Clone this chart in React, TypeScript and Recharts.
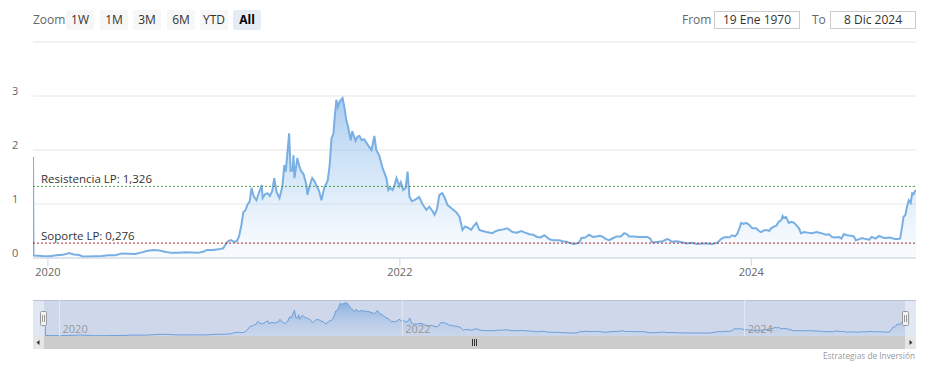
import React from 'react';
import { AreaChart, Area, XAxis, YAxis, CartesianGrid, ReferenceLine } from 'recharts';

const dates = [
  '2019-12-01','2019-12-02','2019-12-12','2019-12-24','2020-01-05','2020-01-18','2020-02-01','2020-02-14','2020-02-24','2020-03-06',
  '2020-03-13','2020-03-25','2020-04-08','2020-04-22','2020-05-06','2020-05-20','2020-06-03','2020-06-16','2020-06-30','2020-07-12',
  '2020-07-26','2020-08-08','2020-08-20','2020-09-02','2020-09-15','2020-09-28','2020-10-12','2020-10-26','2020-11-08','2020-11-20',
  '2020-11-26','2020-12-08','2020-12-20','2020-12-30','2021-01-04','2021-01-09','2021-01-15','2021-01-21','2021-01-27','2021-02-01',
  '2021-02-06','2021-02-10','2021-02-14','2021-02-18','2021-02-23','2021-02-27','2021-03-03','2021-03-09','2021-03-14','2021-03-20',
  '2021-03-22','2021-03-27','2021-04-01','2021-04-06','2021-04-11','2021-04-15','2021-04-20','2021-04-26','2021-05-02','2021-05-06',
  '2021-05-09','2021-05-12','2021-05-16','2021-05-19','2021-05-23','2021-05-25','2021-05-27','2021-06-02','2021-06-06','2021-06-10',
  '2021-06-15','2021-06-21','2021-06-23','2021-06-28','2021-07-03','2021-07-08','2021-07-12','2021-07-17','2021-07-22','2021-07-28',
  '2021-08-04','2021-08-08','2021-08-12','2021-08-16','2021-08-18','2021-08-22','2021-08-25','2021-08-29','2021-09-01','2021-09-04',
  '2021-09-08','2021-09-12','2021-09-15','2021-09-18','2021-09-21','2021-09-24','2021-09-28','2021-10-01','2021-10-05','2021-10-09',
  '2021-10-14','2021-10-19','2021-10-26','2021-11-03','2021-11-09','2021-11-13','2021-11-19','2021-11-26','2021-12-04','2021-12-08',
  '2021-12-12','2021-12-17','2021-12-21','2021-12-25','2021-12-31','2022-01-03','2022-01-08','2022-01-13','2022-01-17','2022-01-21',
  '2022-01-26','2022-01-31','2022-02-05','2022-02-10','2022-02-17','2022-02-25','2022-03-03','2022-03-09','2022-03-14','2022-03-19',
  '2022-03-24','2022-03-30','2022-04-04','2022-04-10','2022-04-18','2022-04-28','2022-05-05','2022-05-11','2022-05-16','2022-05-21',
  '2022-05-29','2022-06-04','2022-06-09','2022-06-15','2022-06-22','2022-06-30','2022-07-12','2022-07-20','2022-07-27','2022-08-04',
  '2022-08-12','2022-08-23','2022-09-01','2022-09-10','2022-09-18','2022-09-27','2022-10-05','2022-10-13','2022-10-20','2022-10-28',
  '2022-11-07','2022-11-15','2022-11-28','2022-12-05','2022-12-12','2022-12-20','2022-12-28','2023-01-02','2023-01-08','2023-01-13',
  '2023-01-21','2023-01-29','2023-02-06','2023-02-13','2023-02-20','2023-02-25','2023-03-05','2023-03-12','2023-03-20','2023-03-28',
  '2023-04-05','2023-04-12','2023-04-18','2023-04-22','2023-05-01','2023-05-13','2023-05-22','2023-05-30','2023-06-05','2023-06-09',
  '2023-06-15','2023-06-23','2023-07-01','2023-07-10','2023-07-14','2023-07-20','2023-07-30','2023-08-10','2023-08-20','2023-08-31',
  '2023-09-10','2023-09-21','2023-10-01','2023-10-12','2023-10-22','2023-10-30','2023-11-05','2023-11-10','2023-11-16','2023-11-22',
  '2023-11-28','2023-12-03','2023-12-08','2023-12-11','2023-12-16','2023-12-21','2023-12-27','2024-01-03','2024-01-11','2024-01-17',
  '2024-01-21','2024-01-27','2024-02-01','2024-02-07','2024-02-11','2024-02-17','2024-02-22','2024-02-27','2024-03-03','2024-03-06',
  '2024-03-09','2024-03-13','2024-03-19','2024-03-24','2024-03-30','2024-04-04','2024-04-09','2024-04-13','2024-04-20','2024-04-27',
  '2024-05-05','2024-05-16','2024-05-25','2024-06-04','2024-06-10','2024-06-17','2024-06-24','2024-07-01','2024-07-06','2024-07-11',
  '2024-07-18','2024-07-26','2024-08-01','2024-08-05','2024-08-12','2024-08-18','2024-08-26','2024-09-02','2024-09-07','2024-09-15',
  '2024-09-22','2024-09-30','2024-10-06','2024-10-14','2024-10-19','2024-10-25','2024-11-01','2024-11-05','2024-11-09','2024-11-12',
  '2024-11-16','2024-11-19','2024-11-23','2024-11-27','2024-11-30','2024-12-03','2024-12-06','2024-12-08',
];

const prices = [
  1.87, 0.045, 0.04, 0.034, 0.033, 0.05, 0.058, 0.09, 0.065, 0.055,
  0.03, 0.028, 0.033, 0.037, 0.05, 0.05, 0.085, 0.08, 0.075, 0.1,
  0.135, 0.15, 0.14, 0.11, 0.095, 0.098, 0.105, 0.1, 0.095, 0.12,
  0.15, 0.15, 0.16, 0.18, 0.25, 0.31, 0.33, 0.3, 0.31, 0.4,
  0.62, 0.85, 0.88, 0.98, 1.05, 1.3, 1.15, 1.07, 1.2, 1.35,
  1.11, 1.18, 1.2, 1.15, 1.24, 1.48, 1.22, 1.11, 1.33, 1.72,
  1.6, 1.9, 2.31, 1.61, 1.62, 1.9, 1.48, 1.85, 1.7, 1.61,
  1.55, 1.35, 1.17, 1.35, 1.48, 1.42, 1.33, 1.25, 1.07, 1.3,
  1.43, 1.7, 2.22, 2.3, 2.54, 2.93, 2.8, 2.9, 2.93, 2.96,
  2.78, 2.54, 2.45, 2.31, 2.18, 2.35, 2.25, 2.17, 2.25, 2.26,
  2.18, 2.2, 2.1, 2.0, 2.26, 2.0, 1.9, 1.67, 1.48, 1.26,
  1.3, 1.26, 1.35, 1.48, 1.33, 1.4, 1.26, 1.3, 1.6, 1.13,
  1.05, 1.07, 1.1, 1.13, 1.0, 0.89, 0.95, 0.88, 0.8, 0.9,
  1.17, 1.2, 1.12, 0.98, 0.92, 0.85, 0.76, 0.52, 0.58, 0.57,
  0.52, 0.6, 0.65, 0.52, 0.5, 0.48, 0.46, 0.5, 0.52, 0.53,
  0.55, 0.48, 0.47, 0.5, 0.47, 0.44, 0.43, 0.39, 0.38, 0.42,
  0.35, 0.33, 0.33, 0.31, 0.3, 0.28, 0.26, 0.27, 0.28, 0.37,
  0.38, 0.43, 0.39, 0.4, 0.41, 0.4, 0.35, 0.33, 0.37, 0.4,
  0.4, 0.46, 0.44, 0.4, 0.4, 0.39, 0.39, 0.39, 0.36, 0.29,
  0.29, 0.3, 0.31, 0.35, 0.34, 0.3, 0.31, 0.29, 0.27, 0.28,
  0.26, 0.27, 0.27, 0.26, 0.28, 0.35, 0.38, 0.39, 0.38, 0.42,
  0.4, 0.45, 0.57, 0.65, 0.63, 0.65, 0.62, 0.55, 0.55, 0.5,
  0.48, 0.51, 0.52, 0.5, 0.55, 0.58, 0.6, 0.67, 0.7, 0.78,
  0.74, 0.76, 0.65, 0.67, 0.65, 0.6, 0.55, 0.46, 0.48, 0.47,
  0.46, 0.48, 0.46, 0.43, 0.44, 0.39, 0.38, 0.39, 0.36, 0.44,
  0.42, 0.41, 0.4, 0.33, 0.35, 0.37, 0.35, 0.34, 0.39, 0.36,
  0.41, 0.38, 0.37, 0.38, 0.37, 0.35, 0.35, 0.36, 0.57, 0.76,
  0.8, 0.94, 1.07, 1.02, 1.2, 1.18, 1.24, 1.26,
];

const yTicks = [0, 1, 2, 3, 4];
const yTickLabels = ['0', '1', '2', '3', ''];
const xTickDates = ['2020-01-01', '2022-01-01', '2024-01-01'];
const xTickLabels = ['2020', '2022', '2024'];
const rangeStart = '2019-12-01';
const rangeEnd = '2024-12-08';
const resistance = 1.326;
const support = 0.276;
const resistanceLabel = 'Resistencia LP: 1,326';
const supportLabel = 'Soporte LP: 0,276';
const zoomButtons = ['1W', '1M', '3M', '6M', 'YTD', 'All'];
const zoomButtonX = [66, 100, 133, 167, 200, 233];
const zoomLabel = 'Zoom';
const fromText = 'From';
const toText = 'To';
const fromValue = '19 Ene 1970';
const toValue = '8 Dic 2024';
const creditText = 'Estrategias de Inversión';

const FONT = '"Open Sans", "Noto Sans", sans-serif';
const ts = (d: string) => Date.parse(d + 'T00:00:00Z');
const data = dates.map((d, i) => ({ t: ts(d), v: prices[i] }));
const xDomain = [ts(rangeStart), ts(rangeEnd)];
const xTicks = xTickDates.map(ts);
const labelFor = (t: number) => xTickLabels[xTicks.indexOf(t)] ?? '';

const YTick = (props: any) => {
  const { y, payload } = props;
  const idx = yTicks.indexOf(payload.value);
  const txt = yTickLabels[idx];
  if (!txt) return <g />;
  return (
    <text x={12} y={y - 1} fontSize={11} fill="#666" fontFamily={FONT}>
      {txt}
    </text>
  );
};

const XTick = (props: any) => {
  const { x, y, payload } = props;
  return (
    <text x={x} y={y + 8} fontSize={11} fill="#666" textAnchor="middle" fontFamily={FONT}>
      {labelFor(payload.value)}
    </text>
  );
};

const PlotLabel = (props: any) => {
  const vb = props.viewBox || {};
  return (
    <text x={(vb.x ?? 0) + 8} y={(vb.y ?? 0) - 3} fontSize={11.5} fill="#333" fontFamily={FONT}>
      {props.text}
    </text>
  );
};

const NavLabel = (props: any) => {
  const vb = props.viewBox || {};
  return (
    <text x={(vb.x ?? 0) + 3} y={(vb.y ?? 0) + (vb.height ?? 0) - 3} fontSize={11} fill="#999" fontFamily={FONT}>
      {props.text}
    </text>
  );
};

const btnStyle = (i: number): React.CSSProperties => ({
  position: 'absolute',
  left: zoomButtonX[i],
  top: 10,
  width: 28,
  height: 20,
  background: zoomButtons[i] === 'All' ? '#e6ebf5' : '#f7f7f7',
  color: zoomButtons[i] === 'All' ? '#000' : '#333',
  fontWeight: zoomButtons[i] === 'All' ? 700 : 400,
  fontSize: 12,
  lineHeight: '20px',
  textAlign: 'center',
  fontFamily: FONT,
  borderRadius: 2,
});

const boxStyle = (left: number, width: number): React.CSSProperties => ({
  position: 'absolute',
  left,
  top: 11,
  width,
  height: 18,
  border: '1px solid #cccccc',
  boxSizing: 'border-box',
  fontSize: 12,
  lineHeight: '16px',
  textAlign: 'center',
  color: '#333',
  fontFamily: FONT,
  background: '#fff',
});

export default function App() {
  return (
    <div style={{ position: 'absolute', left: 0, top: 0, width: 929, height: 369, background: '#fff', overflow: 'hidden', fontFamily: FONT }}>
      {/* range selector */}
      <div style={{ position: 'absolute', left: 33, top: 10, height: 20, lineHeight: '20px', fontSize: 12, color: '#666' }}>{zoomLabel}</div>
      {zoomButtons.map((b, i) => (
        <div key={b} style={btnStyle(i)}>{b}</div>
      ))}
      <div style={{ position: 'absolute', left: 682, top: 10, height: 20, lineHeight: '20px', fontSize: 12, color: '#666' }}>{fromText}</div>
      <div style={boxStyle(714, 86)}>{fromValue}</div>
      <div style={{ position: 'absolute', left: 812, top: 10, height: 20, lineHeight: '20px', fontSize: 12, color: '#666' }}>{toText}</div>
      <div style={boxStyle(830, 86)}>{toValue}</div>

      {/* main chart */}
      <div style={{ position: 'absolute', left: 0, top: 0 }}>
        <AreaChart width={929} height={280} data={data} margin={{ top: 42, right: 13, left: 0, bottom: 0 }}>
          <defs>
            <linearGradient id="mainGrad" x1="0" y1="0" x2="0" y2="1">
              <stop offset="0%" stopColor="#5b9de0" stopOpacity={0.85} />
              <stop offset="55%" stopColor="#8fc0ee" stopOpacity={0.55} />
              <stop offset="100%" stopColor="#cfe3f7" stopOpacity={0.22} />
            </linearGradient>
          </defs>
          <CartesianGrid horizontal vertical={false} stroke="#e6e6e6" />
          <XAxis
            dataKey="t"
            type="number"
            domain={xDomain}
            ticks={xTicks}
            interval={0}
            height={22}
            tickSize={8}
            tickMargin={2}
            axisLine={{ stroke: '#ccd6eb' }}
            tickLine={{ stroke: '#ccd6eb' }}
            tick={<XTick />}
            allowDataOverflow
          />
          <YAxis
            type="number"
            domain={[0, 4]}
            ticks={yTicks}
            width={33}
            axisLine={false}
            tickLine={false}
            tick={<YTick />}
            interval={0}
          />
          <Area
            type="linear"
            dataKey="v"
            stroke="#79afe3"
            strokeWidth={2}
            fill="url(#mainGrad)"
            dot={false}
            activeDot={false}
            isAnimationActive={false}
          />
          <ReferenceLine y={resistance} stroke="#4e9a4e" strokeDasharray="2 2" label={<PlotLabel text={resistanceLabel} />} />
          <ReferenceLine y={support} stroke="#a52a2a" strokeDasharray="2 2" label={<PlotLabel text={supportLabel} />} />
        </AreaChart>
      </div>

      {/* navigator background */}
      <svg width={929} height={369} style={{ position: 'absolute', left: 0, top: 0 }}>
        <rect x={33} y={300} width={883} height={36} fill="#e2e8f3" />
        <rect x={44} y={300} width={861} height={36} fill="#cfd8eb" />
        <line x1={33} y1={300.5} x2={916} y2={300.5} stroke="#b9c2d4" />
      </svg>

      {/* navigator series */}
      <div style={{ position: 'absolute', left: 45, top: 300 }}>
        <AreaChart width={860} height={36} data={data} margin={{ top: 0, right: 0, left: 0, bottom: 0 }}>
          <defs>
            <linearGradient id="navGrad" x1="0" y1="0" x2="0" y2="1">
              <stop offset="0%" stopColor="#4a8ad4" stopOpacity={0.85} />
              <stop offset="100%" stopColor="#a9c6ea" stopOpacity={0.2} />
            </linearGradient>
          </defs>
          <XAxis hide dataKey="t" type="number" domain={xDomain} allowDataOverflow />
          <YAxis hide type="number" domain={[0, 3.2]} />
          {xTicks.map((t, i) => (
            <ReferenceLine key={t} x={t} stroke="#e4e9f3" label={<NavLabel text={xTickLabels[i]} />} />
          ))}
          <Area
            type="linear"
            dataKey="v"
            stroke="#6d9fd8"
            strokeWidth={1}
            fill="url(#navGrad)"
            dot={false}
            activeDot={false}
            isAnimationActive={false}
          />
        </AreaChart>
      </div>

      {/* handles + scrollbar */}
      <svg width={929} height={369} style={{ position: 'absolute', left: 0, top: 0 }}>
        <rect x={40.5} y={311.5} width={6} height={14} rx={1} fill="#f2f2f2" stroke="#999" />
        <line x1={42.5} y1={315} x2={42.5} y2={322} stroke="#999" />
        <line x1={44.5} y1={315} x2={44.5} y2={322} stroke="#999" />
        <rect x={902.5} y={311.5} width={6} height={14} rx={1} fill="#f2f2f2" stroke="#999" />
        <line x1={904.5} y1={315} x2={904.5} y2={322} stroke="#999" />
        <line x1={906.5} y1={315} x2={906.5} y2={322} stroke="#999" />

        <rect x={33} y={336} width={883} height={13} fill="#f2f2f2" />
        <rect x={44} y={336} width={861} height={13} fill="#cccccc" />
        <rect x={33} y={336} width={11} height={13} fill="#e6e6e6" />
        <rect x={905} y={336} width={11} height={13} fill="#e6e6e6" />
        <path d="M 39.5 340 L 36.5 342.5 L 39.5 345 Z" fill="#333" />
        <path d="M 909.5 340 L 912.5 342.5 L 909.5 345 Z" fill="#333" />
        <line x1={472.5} y1={339} x2={472.5} y2={346} stroke="#333" />
        <line x1={474.5} y1={339} x2={474.5} y2={346} stroke="#333" />
        <line x1={476.5} y1={339} x2={476.5} y2={346} stroke="#333" />

        <text x={915} y={359} fontSize={8.3} fill="#999" textAnchor="end" fontFamily={FONT}>{creditText}</text>
      </svg>
    </div>
  );
}
